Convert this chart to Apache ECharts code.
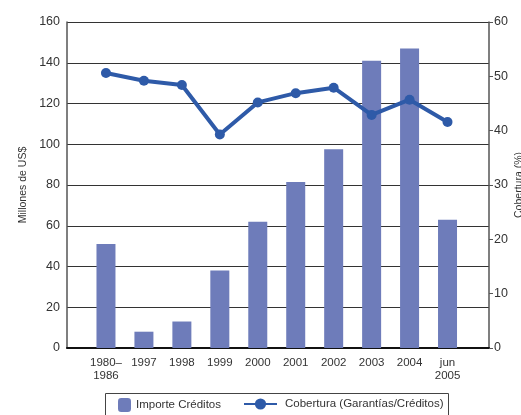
<!DOCTYPE html>
<html><head><meta charset="utf-8">
<script src="https://cdn.jsdelivr.net/npm/echarts@6/dist/echarts.min.js"></script>
<style>html,body{margin:0;padding:0;background:#fff}#c{width:521px;height:415px}</style>
</head><body><div id="c"></div>
<script>
const categories = ['1980–\n1986','1997','1998','1999','2000','2001','2002','2003','2004','jun\n2005'];
const importeCreditos = [51, 8, 13, 38, 62, 81.5, 97.5, 141, 147, 63];
const cobertura = [50.6, 49.2, 48.4, 39.3, 45.2, 46.9, 47.9, 42.9, 45.7, 41.6];
const leftTicks = {min: 0, max: 160, interval: 20};
const rightTicks = {min: 0, max: 60, interval: 10};

const FONT = '"Liberation Sans", Arial, sans-serif';
const BAR = '#6e7cba', LINE = '#2e5aa8';
const chart = echarts.init(document.getElementById('c'), null, {renderer: 'canvas'});
chart.setOption({
  animation: false,
  textStyle: {fontFamily: FONT},
  grid: [
    {left: 67, right: 32, top: 22, bottom: 67, outerBoundsMode: 'none', containLabel: false},
    {left: 87, right: 54.5, top: 22, bottom: 67, outerBoundsMode: 'none', containLabel: false}
  ],
  xAxis: [
    {gridIndex: 0, type: 'category', data: categories, axisLabel: {show: false}, axisTick: {show: false},
     axisLine: {lineStyle: {color: '#111', width: 2}}},
    {gridIndex: 1, type: 'category', data: categories, axisLine: {show: false}, axisTick: {show: false},
     axisLabel: {color: '#333', fontSize: 11.5, fontFamily: FONT, margin: 8, lineHeight: 13, interval: 0}}
  ],
  yAxis: [
    {gridIndex: 0, type: 'value', position: 'left', ...leftTicks,
     name: 'Millones de US$', nameLocation: 'middle', nameGap: 38, nameRotate: 90, nameMoveOverlap: false,
     nameTextStyle: {color: '#333', fontSize: 10.5, fontFamily: FONT},
     axisLine: {show: true, lineStyle: {color: '#555', width: 1.5}}, axisTick: {show: false},
     axisLabel: {color: '#333', fontSize: 12.5, fontFamily: FONT, margin: 7},
     splitLine: {lineStyle: {color: '#333', width: 1.2}}},
    {gridIndex: 0, type: 'value', position: 'right', ...rightTicks,
     name: 'Cobertura (%)', nameLocation: 'middle', nameGap: 25, nameRotate: 90, nameMoveOverlap: false,
     nameTextStyle: {color: '#333', fontSize: 10.5, fontFamily: FONT},
     axisLine: {show: true, lineStyle: {color: '#555', width: 1.5}},
     axisTick: {show: true, length: 4, lineStyle: {color: '#555'}},
     axisLabel: {color: '#333', fontSize: 12.5, fontFamily: FONT, margin: 5},
     splitLine: {show: false}},
    {gridIndex: 1, type: 'value', ...leftTicks, show: false},
    {gridIndex: 1, type: 'value', position: 'right', ...rightTicks,
     axisLine: {show: false}, axisTick: {show: false}, axisLabel: {show: false}, splitLine: {show: false}}
  ],
  legend: [
    {left: 113, top: 393, itemWidth: 13, itemHeight: 14, data: ['Importe Créditos'],
     textStyle: {color: '#333', fontSize: 11.5, fontFamily: FONT}},
    {left: 238, top: 393, itemWidth: 33, itemHeight: 14, data: ['Cobertura (Garantías/Créditos)'],
     textStyle: {color: '#333', fontSize: 11.5, fontFamily: FONT, padding: [0, 0, 0, 3]}}
  ],
  graphic: [
    {type: 'rect', shape: {x: 105.5, y: 393.5, width: 343, height: 40},
     style: {fill: 'none', stroke: '#444', lineWidth: 1}, silent: true}
  ],
  series: [
    {name: 'Importe Créditos', type: 'bar', xAxisIndex: 1, yAxisIndex: 2, data: importeCreditos,
     barWidth: 19, itemStyle: {color: BAR}},
    {name: 'Cobertura (Garantías/Créditos)', type: 'line', xAxisIndex: 1, yAxisIndex: 3, data: cobertura,
     symbol: 'circle', symbolSize: 10, lineStyle: {color: LINE, width: 4}, itemStyle: {color: LINE}}
  ]
});
</script></body></html>
